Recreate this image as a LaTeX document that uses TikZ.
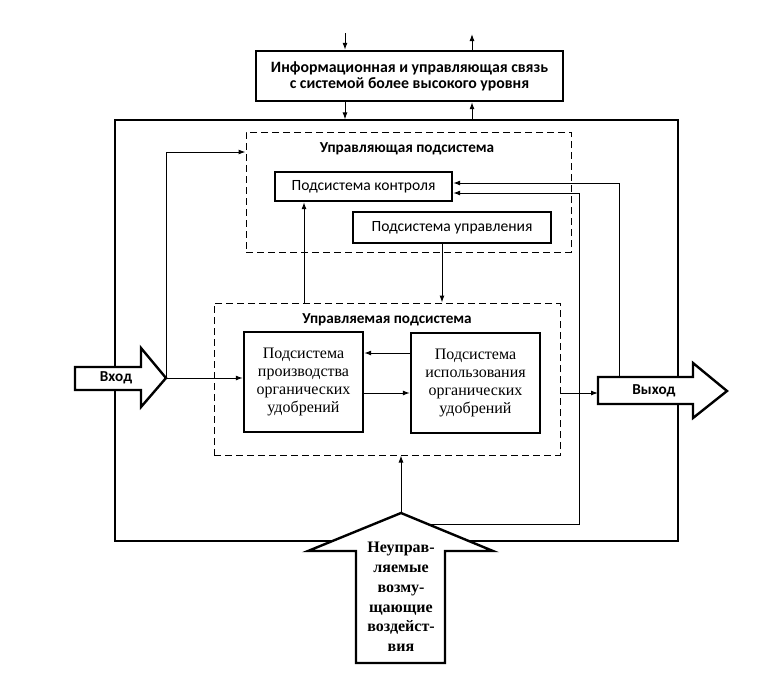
\documentclass[tikz,border=0pt]{standalone}
\usepackage{fontspec}
\setmainfont{Liberation Serif}
\newfontfamily\carlito{Carlito}
\usetikzlibrary{positioning,arrows.meta}

\begin{document}
\begin{tikzpicture}[
  x=1pt, y=-1pt,
  every path/.style={line width=1pt,>={Latex[length=7pt,width=5pt]}},
  block/.style={draw,line width=2.4pt,align=center,inner sep=0pt},
  subsys/.style={draw,dash pattern=on 7pt off 4pt,line width=1pt,inner sep=0pt},
  title/.style={font=\carlito\bfseries\fontsize{15.2}{16}\selectfont},
  smallbox/.style={block,font=\carlito\fontsize{15.6}{16}\selectfont},
  serifbox/.style={block,minimum height=100pt,font=\fontsize{16}{18}\selectfont},
  bigarrow/.style={draw,fill=white,line width=2.4pt},
  ]
  \useasboundingbox (0,0) rectangle (769,688);
  % frame and subsystems
  \node[draw,line width=1.2pt,minimum width=563pt,minimum height=421pt,inner sep=0pt] (frame) at (396.5,330.5) {};
  \node[block,minimum width=307pt,minimum height=50pt,font=\carlito\bfseries\fontsize{15.8}{16}\selectfont] (info) at (409.5,76)
    {Информационная и управляющая связь\\с системой более высокого уровня};
  \node[subsys,minimum width=325pt,minimum height=120pt] (ctrlsys) at (408.5,192) {};
  \node[title] (ctrltitle) at (407,149) {Управляющая подсистема};
  \node[smallbox,minimum width=177pt,minimum height=29pt] (ctrl) at (363.5,186.5) {Подсистема контроля};
  \node[smallbox,minimum width=198pt,minimum height=31pt] (mgmt) at (452,227.5) {Подсистема управления};
  \node[subsys,minimum width=346pt,minimum height=152pt] (mansys) at (387,379) {};
  \node[title] (mantitle) at (387,320) {Управляемая подсистема};
  \node[serifbox,minimum width=119pt] (prod) at (303.5,382) {Подсистема\\производства\\органических\\удобрений};
  \node[serifbox,minimum width=129pt] (use) at (475.5,383) {Подсистема\\использования\\органических\\удобрений};
  % free ends
  \coordinate (fromtop) at (345,33);
  \coordinate (totop) at (472,34);
  \coordinate (intip) at (166,378);
  \coordinate (outtail) at (598,393);
  \coordinate (outtop) at (619,377);
  \coordinate (disttip) at (401,513);
  \coordinate (distside) at (428,524);
  \coordinate (fbturn) at (579,193);
  \path[draw,->]
  (fromtop) edge (fromtop |- info.north)
  (info.north -| totop) edge (totop)
  (info.south -| fromtop) edge (fromtop |- frame.north)
  (frame.north -| totop) edge (info.south -| totop)
  (use.west |- 0,353) edge (prod.east |- 0,353)
  (prod.east |- 0,393) edge (use.west |- 0,393)
  (mansys.north -| 304,0) edge (ctrl.south -| 304,0)
  (mgmt.south -| 442,0) edge (mansys.north -| 442,0)
  (intip) edge (prod.west |- intip)
  (mansys.east |- outtail) edge (outtail)
  (disttip) edge (mansys.south -| disttip);
  \draw[->] (intip) |- (ctrlsys.west |- 0,152);
  \draw[->] (outtop) |- (ctrl.east |- 0,183);
  \draw[->] (distside) -| (fbturn) -- (ctrl.east |- fbturn);
  % block arrows
  \draw[bigarrow] (75,367) -- (141,367) -- (141,348) -- (intip) -- (141,407) -- (141,390) -- (75,390) -- cycle;
  \draw[bigarrow] (598,377) -- (693,377) -- (693,363) -- (727,391) -- (693,418) -- (693,404) -- (598,404) -- cycle;
  \draw[bigarrow] (disttip) -- (493,551) -- (445,551) -- (445,663) -- (356,663) -- (356,551) -- (308,551) -- cycle;
  \node[title] (inlbl) at (116,378) {Вход};
  \node[title] (outlbl) at (654,391) {Выход};
  \node[align=center,font=\bfseries\fontsize{16}{19.8}\selectfont] (distlbl) at (401,597)
    {Неуправ-\\ляемые\\возму-\\щающие\\воздейст-\\вия};
\end{tikzpicture}
\end{document}
